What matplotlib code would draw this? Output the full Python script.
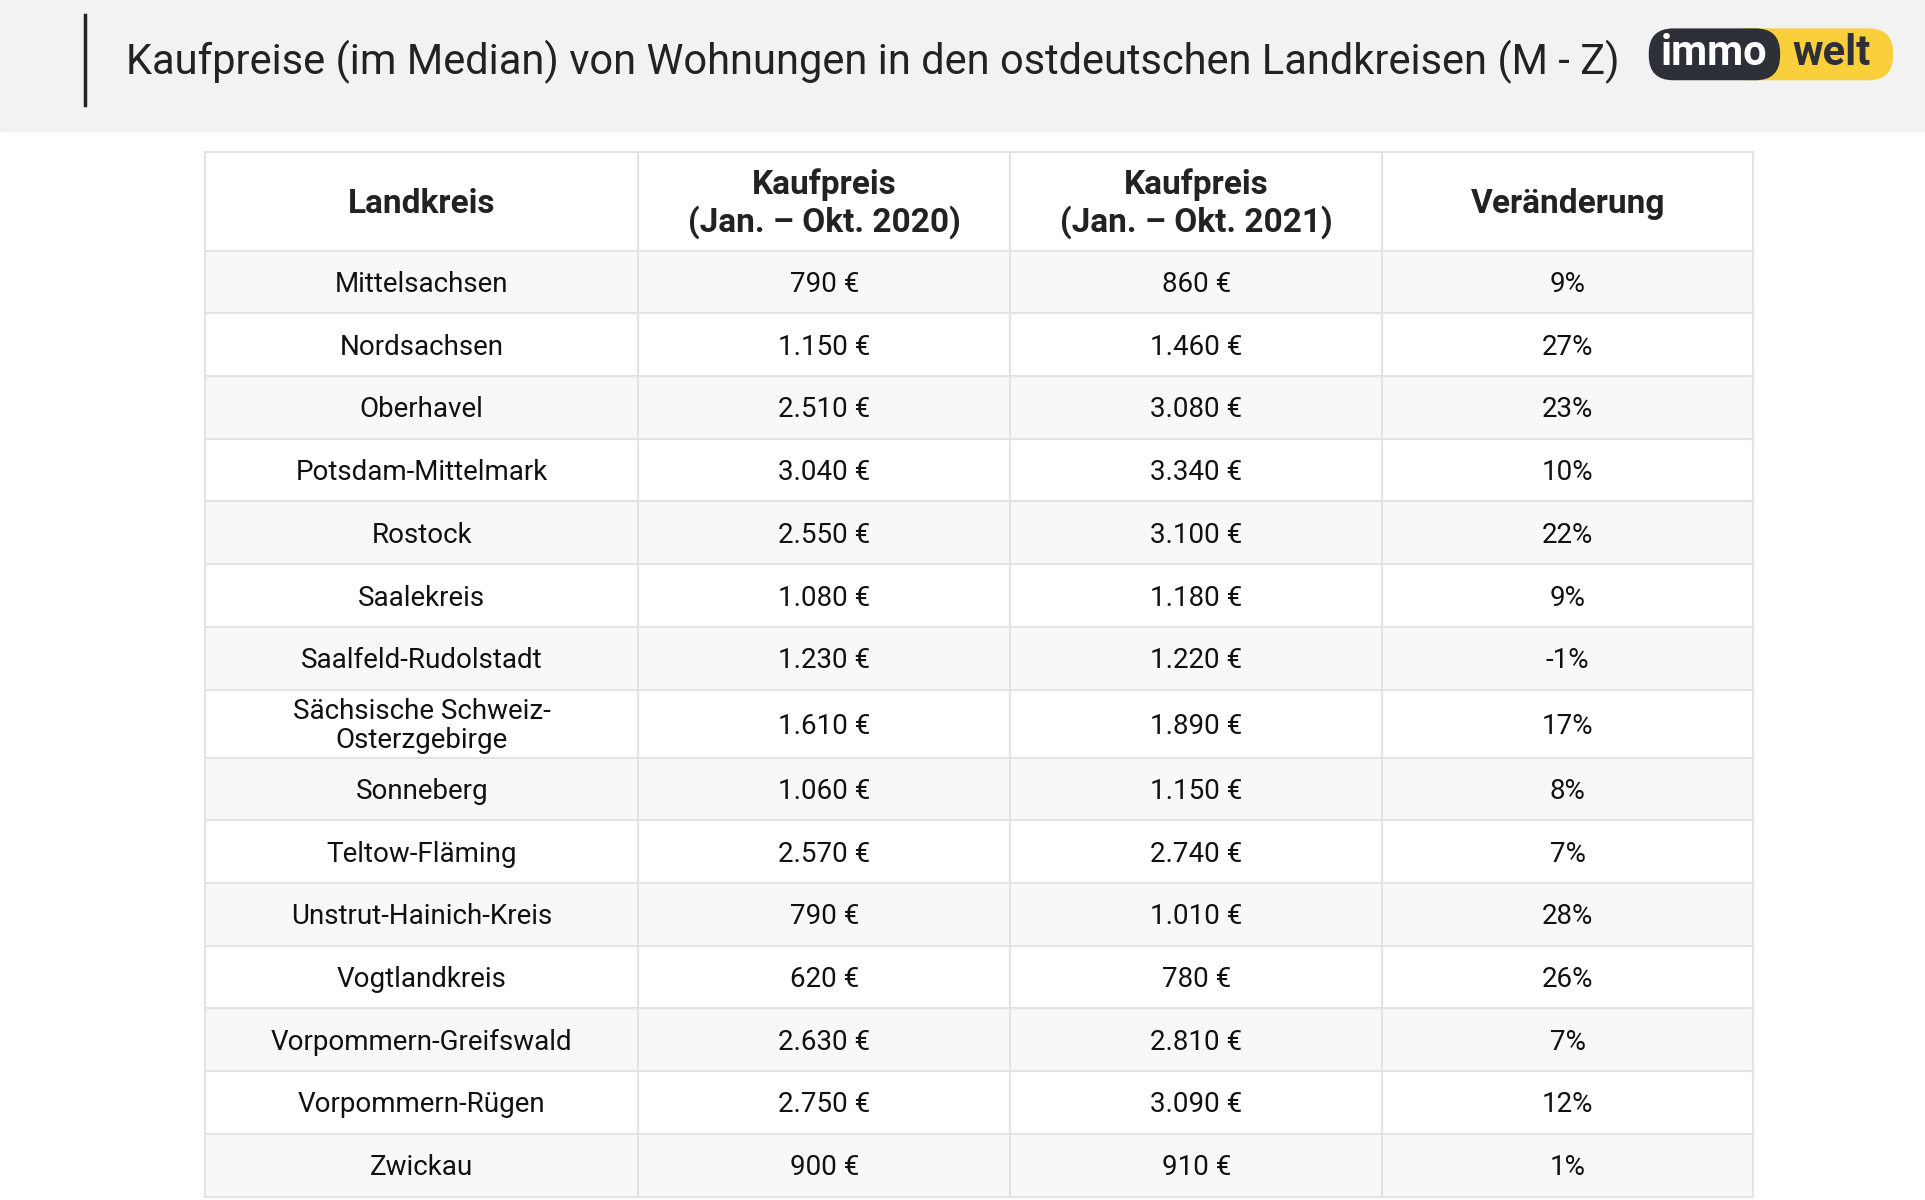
import matplotlib
matplotlib.use("Agg")
import matplotlib.pyplot as plt
from matplotlib.patches import Rectangle, FancyBboxPatch

plt.rcParams['font.family'] = ['Roboto', 'DejaVu Sans']

title = "Kaufpreise (im Median) von Wohnungen in den ostdeutschen Landkreisen (M - Z)"
headers = ["Landkreis", "Kaufpreis\n(Jan. – Okt. 2020)", "Kaufpreis\n(Jan. – Okt. 2021)", "Veränderung"]
landkreise = ["Mittelsachsen", "Nordsachsen", "Oberhavel", "Potsdam-Mittelmark", "Rostock",
              "Saalekreis", "Saalfeld-Rudolstadt", "Sächsische Schweiz-\nOsterzgebirge", "Sonneberg",
              "Teltow-Fläming", "Unstrut-Hainich-Kreis", "Vogtlandkreis", "Vorpommern-Greifswald",
              "Vorpommern-Rügen", "Zwickau"]
preis_2020 = ["790 €", "1.150 €", "2.510 €", "3.040 €", "2.550 €", "1.080 €", "1.230 €", "1.610 €",
              "1.060 €", "2.570 €", "790 €", "620 €", "2.630 €", "2.750 €", "900 €"]
preis_2021 = ["860 €", "1.460 €", "3.080 €", "3.340 €", "3.100 €", "1.180 €", "1.220 €", "1.890 €",
              "1.150 €", "2.740 €", "1.010 €", "780 €", "2.810 €", "3.090 €", "910 €"]
veraenderung = ["9%", "27%", "23%", "10%", "22%", "9%", "-1%", "17%", "8%", "7%", "28%", "26%",
                "7%", "12%", "1%"]

W, H = 1568, 972
fig = plt.figure(figsize=(19.25, 12.0), dpi=100)
ax = fig.add_axes([0, 0, 1, 1])
ax.set_xlim(0, W); ax.set_ylim(H, 0); ax.axis('off')

# header band
ax.add_patch(Rectangle((0, 0), W, 106, color='#f2f2f2', zorder=0))
ax.plot([69, 69], [12, 85], color='#222222', lw=2.5)
ax.text(103, 50, title, fontsize=30, va='center', ha='left', color='#222222')

# logo
ax.add_patch(FancyBboxPatch((1405, 23), 137, 42, boxstyle="round,pad=0,rounding_size=20",
                            fc='#f9cf3b', ec='none', zorder=2))
ax.add_patch(FancyBboxPatch((1343, 23), 107, 42, boxstyle="round,pad=0,rounding_size=20",
                            fc='#2e3038', ec='none', zorder=3))
ax.text(1396, 43, "immo", fontsize=30, fontweight='bold', color='white', ha='center', va='center', zorder=4)
ax.text(1492, 43, "welt", fontsize=30, fontweight='bold', color='#2e3038', ha='center', va='center', zorder=4)

# table
cols = [167, 520, 823, 1126, 1428]
top, head_bot = 123, 203
heights = [50.8] * 15
heights[7] = 55
ys = [head_bot]
for h in heights:
    ys.append(ys[-1] + h)

for i in range(15):
    fc = '#f8f8f8' if i % 2 == 0 else 'white'
    ax.add_patch(Rectangle((cols[0], ys[i]), cols[-1] - cols[0], ys[i + 1] - ys[i], fc=fc, ec='none', zorder=0))

lc = '#e3e3e3'
for x in cols:
    ax.plot([x, x], [top, ys[-1]], color=lc, lw=1.5, zorder=1)
for y in [top] + ys:
    ax.plot([cols[0], cols[-1]], [y, y], color=lc, lw=1.5, zorder=1)

for j, htxt in enumerate(headers):
    cx = (cols[j] + cols[j + 1]) / 2
    ax.text(cx, (top + head_bot) / 2 + 2, htxt, fontsize=24, fontweight='bold', ha='center', va='center',
            color='#222222', linespacing=1.15)

for i in range(15):
    cy = (ys[i] + ys[i + 1]) / 2 + 2
    vals = [landkreise[i], preis_2020[i], preis_2021[i], veraenderung[i]]
    for j, v in enumerate(vals):
        cx = (cols[j] + cols[j + 1]) / 2
        ax.text(cx, cy, v, fontsize=20, ha='center', va='center', color='#111111', linespacing=1.12)

fig.savefig("out.png", dpi=100)
